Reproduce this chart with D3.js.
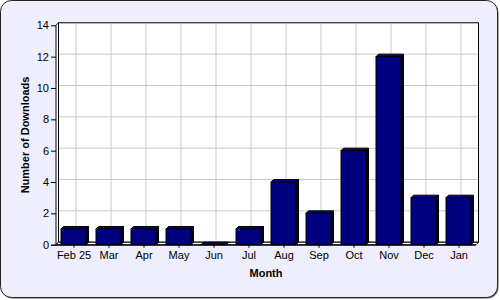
<!DOCTYPE html>
<html>
<head>
<meta charset="utf-8">
<script src="https://cdn.jsdelivr.net/npm/d3@7"></script>
<style>
  html, body { margin: 0; padding: 0; background: #ffffff; }
  svg { display: block; }
  text { font-family: "Liberation Sans", Arial, Helvetica, sans-serif; }
</style>
</head>
<body>
<svg id="chart" width="500" height="300"></svg>
<script>
const categories = ["Feb 25", "Mar", "Apr", "May", "Jun", "Jul", "Aug", "Sep", "Oct", "Nov", "Dec", "Jan"];
const downloads = [1, 1, 1, 1, 0, 1, 4, 2, 6, 12, 3, 3];
const yTicks = [0, 2, 4, 6, 8, 10, 12, 14];
const xTitle = "Month";
const yTitle = "Number of Downloads";

(function () {
const svg = d3.select("#chart");
const depth = 2.5;
const pLeft = 56, pRight = 476, pTop = 25.3, pBase = 244.7;

// background panel with shadow
svg.append("rect").attr("x", 1.5).attr("y", 1.5).attr("width", 497).attr("height", 297)
  .attr("rx", 11).attr("fill", "#666");
svg.append("rect").attr("x", 0.5).attr("y", 0.5).attr("width", 497).attr("height", 297)
  .attr("rx", 11).attr("fill", "#eeeefc").attr("stroke", "#222").attr("stroke-width", 1);

const x = d3.scaleBand().domain(categories).range([pLeft, pRight]).paddingInner(0.286).paddingOuter(0.143);
const xc = d3.scalePoint().domain(categories).range([pLeft, pRight]).padding(0.5);
const y = d3.scaleLinear().domain([0, 14]).range([pBase, pTop]);

const g = svg.append("g");
const pts = arr => arr.map(p => p.join(",")).join(" ");

// back wall
g.append("rect")
  .attr("x", pLeft + depth).attr("y", pTop - depth)
  .attr("width", pRight - pLeft).attr("height", pBase - pTop)
  .attr("fill", "#fff").attr("stroke", "#000").attr("stroke-width", 1);

// left wall
g.append("polygon")
  .attr("points", pts([[pLeft, pBase], [pLeft, pTop], [pLeft + depth, pTop - depth], [pLeft + depth, pBase - depth]]))
  .attr("fill", "#fff").attr("stroke", "#000").attr("stroke-width", 1);

// grid lines on back wall
g.selectAll(".hgrid").data(yTicks.filter(t => t > 0 && t < 14)).join("line")
  .attr("x1", pLeft + depth + 0.5).attr("x2", pRight + depth - 0.5)
  .attr("y1", d => y(d) - depth).attr("y2", d => y(d) - depth)
  .attr("stroke", "#c8c8c8").attr("stroke-width", 1);
g.selectAll(".vgrid").data(categories).join("line")
  .attr("x1", d => xc(d) + depth).attr("x2", d => xc(d) + depth)
  .attr("y1", pTop - depth + 0.5).attr("y2", pBase - depth - 0.5)
  .attr("stroke", "#c8c8c8").attr("stroke-width", 1);

// floor
g.append("polygon")
  .attr("points", pts([[pLeft, pBase], [pLeft + depth, pBase - depth], [pRight + depth, pBase - depth], [pRight, pBase]]))
  .attr("fill", "#fff").attr("stroke", "#000").attr("stroke-width", 1);

// bars
const bars = g.selectAll(".bar").data(categories.map((c, i) => ({ c, v: downloads[i] }))).join("g");
bars.append("polygon") // side
  .attr("points", d => {
    const x0 = x(d.c) + x.bandwidth(), yt = y(d.v);
    return pts([[x0, yt], [x0 + depth, yt - depth], [x0 + depth, pBase - depth], [x0, pBase]]);
  })
  .attr("fill", "#000020").attr("stroke", "#000").attr("stroke-width", 1);
bars.append("polygon") // top
  .attr("points", d => {
    const x0 = x(d.c), x1 = x0 + x.bandwidth(), yt = y(d.v);
    return pts([[x0, yt], [x0 + depth, yt - depth], [x1 + depth, yt - depth], [x1, yt]]);
  })
  .attr("fill", "#000080").attr("stroke", "#000").attr("stroke-width", 1);
bars.append("rect") // front
  .attr("x", d => x(d.c)).attr("y", d => y(d.v))
  .attr("width", x.bandwidth()).attr("height", d => pBase - y(d.v))
  .attr("fill", "#000080").attr("stroke", "#000").attr("stroke-width", 1);

// axes
const yAxis = d3.axisLeft(y).tickValues(yTicks).tickSize(5).tickPadding(2);
const ya = svg.append("g").attr("transform", `translate(${pLeft},0)`).call(yAxis);
ya.select(".domain").remove();
ya.selectAll("line").attr("stroke", "#000");
ya.selectAll("text").attr("font-size", 11).attr("fill", "#000");

const xAxis = d3.axisBottom(xc).tickSize(3).tickPadding(4);
const xa = svg.append("g").attr("transform", `translate(0,${pBase})`).call(xAxis);
xa.select(".domain").attr("d", `M${pLeft - 5},0.5H${pRight}`).attr("stroke", "#000");
xa.selectAll("line").attr("stroke", "#000");
xa.selectAll("text").attr("font-size", 11).attr("fill", "#000");

// titles
svg.append("text").attr("x", (pLeft + pRight) / 2).attr("y", 277)
  .attr("text-anchor", "middle").attr("font-size", 11).attr("font-weight", "bold").text(xTitle);
svg.append("text").attr("transform", `translate(29,${(pTop + pBase) / 2}) rotate(-90)`)
  .attr("text-anchor", "middle").attr("font-size", 11).attr("font-weight", "bold").text(yTitle);
})();
</script>
</body>
</html>
